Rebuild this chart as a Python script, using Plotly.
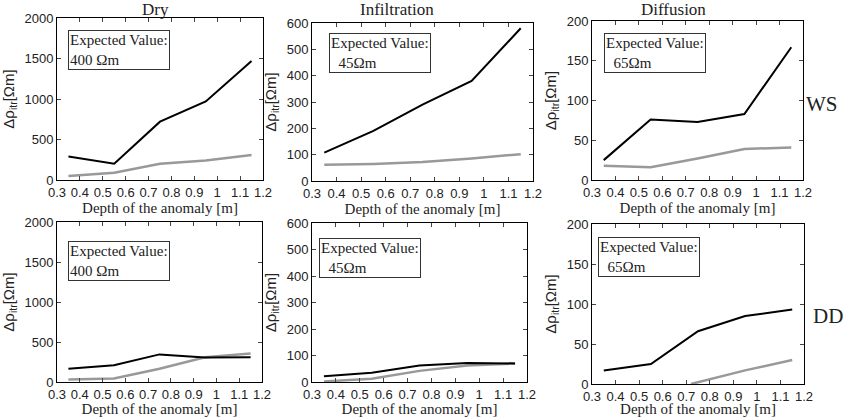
import plotly.graph_objects as go

depth = [0.35, 0.55, 0.75, 0.95, 1.15]

# WS row
dry_ws_black = [290, 200, 720, 970, 1470]
dry_ws_gray = [50, 90, 200, 240, 310]
inf_ws_black = [108, 190, 290, 380, 580]
inf_ws_gray = [62, 65, 72, 85, 102]
dif_ws_black = [25, 76, 73, 83, 167]
dif_ws_gray = [18, 16, 27, 39, 41]
# DD row
dry_dd_black = [165, 210, 345, 305, 310]
dry_dd_gray = [30, 45, 165, 310, 355]
inf_dd_black = [22, 35, 62, 72, 70]
inf_dd_gray = [2, 12, 42, 62, 70]
dif_dd_black = [17, 25, 66, 85, 93]
dif_dd_gray_x = [0.72, 0.95, 1.15]
dif_dd_gray = [0, 17, 30]

col_titles = ["Dry", "Infiltration", "Diffusion"]
row_labels = ["WS", "DD"]
expected = ["Expected Value:<br>400 Ωm", "Expected Value:<br>  45Ωm", "Expected Value:<br>  65Ωm"]
y_ranges = [2000, 600, 200]
y_dtick = [500, 100, 50]
x_ticks = [0.3, 0.4, 0.5, 0.6, 0.7, 0.8, 0.9, 1.0, 1.1, 1.2]
x_ticktext = ["0.3", "0.4", "0.5", "0.6", "0.7", "0.8", "0.9", "1", "1.1", "1.2"]

W, H = 855, 417
def px(x): return x / W
def py(y): return 1 - y / H

# pixel boxes: (left, right, top, bottom)
boxes = [
    (57, 263, 18, 180), (312, 533, 23, 181), (592, 803, 21, 180),
    (57, 262, 222, 382), (312, 527, 223, 382), (592, 804, 224, 384),
]
ann_pos = [(68, 30), (329, 33), (604, 33), (68, 241), (319, 238), (598, 237)]

series = [
    (depth, dry_ws_black, depth, dry_ws_gray),
    (depth, inf_ws_black, depth, inf_ws_gray),
    (depth, dif_ws_black, depth, dif_ws_gray),
    (depth, dry_dd_black, depth, dry_dd_gray),
    (depth, inf_dd_black, depth, inf_dd_gray),
    (depth, dif_dd_black, dif_dd_gray_x, dif_dd_gray),
]

fig = go.Figure()
serif = "Liberation Serif, Times New Roman, serif"
sans = "Liberation Sans, Arial, sans-serif"
annotations = []
layout = {}
for i, (l, r, t, b) in enumerate(boxes):
    n = "" if i == 0 else str(i + 1)
    xa, ya = "x" + n, "y" + n
    xb, yb, xg, yg = series[i]
    fig.add_trace(go.Scatter(x=xg, y=yg, mode="lines", line=dict(color="#999999", width=2.5),
                             xaxis=xa, yaxis=ya, showlegend=False))
    fig.add_trace(go.Scatter(x=xb, y=yb, mode="lines", line=dict(color="black", width=2),
                             xaxis=xa, yaxis=ya, showlegend=False))
    c = i % 3
    layout["xaxis" + n] = dict(
        domain=[px(l), px(r)], anchor=ya, range=[0.3, 1.2], tickvals=x_ticks, ticktext=x_ticktext,
        ticks="inside", ticklen=4, mirror="ticks", showline=True, linecolor="black", linewidth=1,
        showgrid=False, zeroline=False, automargin=False,
        tickfont=dict(family=sans, size=13, color="#222"),
        title=dict(text="Depth of the anomaly [m]", font=dict(family=serif, size=15, color="#222"), standoff=1),
    )
    layout["yaxis" + n] = dict(
        domain=[py(b), py(t)], anchor=xa, range=[0, y_ranges[c]], dtick=y_dtick[c],
        ticks="inside", ticklen=4, mirror="ticks", showline=True, linecolor="black", linewidth=1,
        showgrid=False, zeroline=False, automargin=False,
        tickfont=dict(family=sans, size=13, color="#222"),
        title=dict(text="Δρ<sub>itr</sub>[Ωm]", font=dict(family=sans, size=15, color="#222"), standoff=6),
    )
    ax, ay = ann_pos[i]
    annotations.append(dict(
        x=px(ax), y=py(ay), xref="paper", yref="paper", xanchor="left", yanchor="top",
        text=expected[c], showarrow=False, align="left", bordercolor="#333", borderwidth=1,
        borderpad=1, bgcolor="white", font=dict(family=serif, size=15, color="#222"),
    ))

for c, (cx, title) in enumerate(zip([155, 397, 673], col_titles)):
    annotations.append(dict(x=px(cx), y=py(10), xref="paper", yref="paper", text=title,
                            xanchor="center", yanchor="middle",
                            showarrow=False, font=dict(family=serif, size=17, color="#222")))
for (rx, ry), lab in zip([(822, 104), (828, 316)], row_labels):
    annotations.append(dict(x=px(rx), y=py(ry), xref="paper", yref="paper", text=lab,
                            xanchor="center", yanchor="middle",
                            showarrow=False, font=dict(family=serif, size=21, color="#222")))

fig.update_layout(width=W, height=H, margin=dict(l=0, r=0, t=0, b=0),
                  plot_bgcolor="white", paper_bgcolor="white", annotations=annotations, **layout)
fig.write_html("out.html", config={"displayModeBar": False},
               post_script="document.body.style.margin='0';document.body.style.overflow='hidden';")
